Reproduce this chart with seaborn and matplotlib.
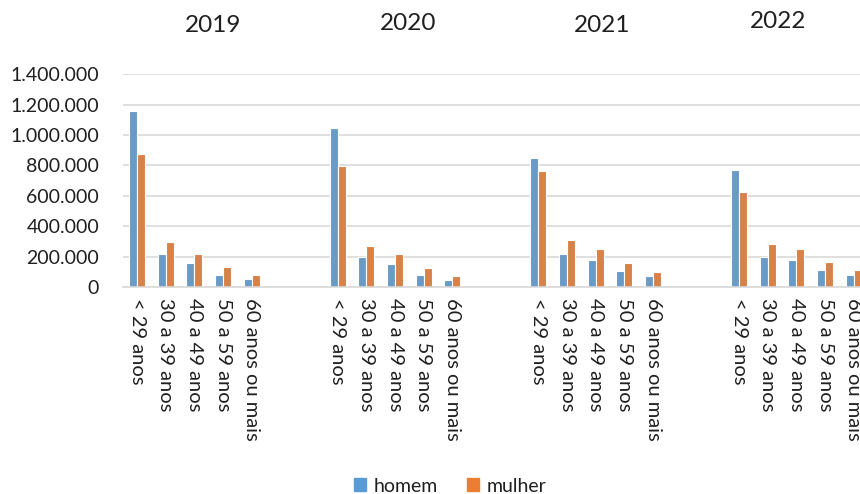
import numpy as np
import pandas as pd
import matplotlib
matplotlib.use("Agg")
import matplotlib.pyplot as plt
import matplotlib.ticker as mticker
from matplotlib.patches import Patch
import seaborn as sns

# data
anos = ["2019", "2020", "2021", "2022"]
faixas = ["< 29 anos", "30 a 39 anos", "40 a 49 anos", "50 a 59 anos", "60 anos ou mais"]
homem = [
    [1160000, 214000, 158000, 77000, 55000],
    [1048000, 198000, 150000, 77000, 46000],
    [848000, 214000, 176000, 103000, 70000],
    [769000, 198000, 176000, 110000, 79000],
]
mulher = [
    [873000, 293000, 220000, 134000, 77000],
    [796000, 270000, 214000, 128000, 71000],
    [763000, 308000, 247000, 161000, 97000],
    [626000, 280000, 247000, 167000, 110000],
]
n_vazios = 2  # empty slots after each year

cores = {"homem": "#5B9BD5", "mulher": "#ED7D31"}

rows = []
ordem = []
rotulos = []
for i, ano in enumerate(anos):
    for j, faixa in enumerate(faixas):
        slot = ano + "|" + faixa
        ordem.append(slot)
        rotulos.append(faixa)
        rows.append({"slot": slot, "sexo": "homem", "valor": homem[i][j]})
        rows.append({"slot": slot, "sexo": "mulher", "valor": mulher[i][j]})
    for k in range(n_vazios):
        ordem.append(ano + "|vazio" + str(k))
        rotulos.append("")
df = pd.DataFrame(rows)

sns.set_style("white")
plt.rcParams["font.family"] = ["Lato", "DejaVu Sans"]

fig = plt.figure(figsize=(8.6, 4.94), dpi=100)
ax = fig.add_axes([122.7 / 860, 207 / 494, 1 - 122.7 / 860, (287 - 74.3) / 494])

sns.barplot(data=df, x="slot", y="valor", hue="sexo", order=ordem,
            hue_order=["homem", "mulher"], palette=cores, width=0.56,
            edgecolor="white", linewidth=0.8, ax=ax, legend=False)

ax.set_xticks(range(len(ordem)))
ax.set_xticklabels(rotulos, rotation=-90, fontsize=14.5, color="#1f1f1f", va="top", ha="center")
# picture is cut on the right, inside the 2022 group
ax.set_xlim(-0.5, 25.22)
ax.set_ylim(0, 1400000)
ax.yaxis.set_major_locator(mticker.MultipleLocator(200000))
ax.yaxis.set_major_formatter(mticker.FuncFormatter(lambda v, p: f"{int(v):,}".replace(",", ".")))
ax.tick_params(axis="x", length=0, pad=8)
ax.tick_params(axis="y", length=0, pad=17, labelsize=14, labelcolor="#1f1f1f")
ax.set_xlabel("")
ax.set_ylabel("")

ax.grid(axis="y", color="#D9D9D9", linewidth=1.2)
ax.set_axisbelow(True)
for s in ["top", "right", "left"]:
    ax.spines[s].set_visible(False)
ax.spines["bottom"].set_color("#D9D9D9")
ax.spines["bottom"].set_linewidth(1.2)

# year titles above each group
pos_anos = [(213, 25), (408, 23), (602, 25), (778, 22)]
for ano, (px, py) in zip(anos, pos_anos):
    fig.text(px / 860, 1 - py / 494, ano, ha="center", va="center", fontsize=17.5, color="#1f1f1f")

handles = [Patch(color=cores["homem"], label="homem"), Patch(color=cores["mulher"], label="mulher")]
fig.legend(handles=handles, loc="center", bbox_to_anchor=(450 / 860, 1 - 486 / 494), ncol=2,
           frameon=False, fontsize=14, handlelength=0.6, handleheight=0.6, handletextpad=0.4,
           columnspacing=1.5, labelcolor="#1f1f1f")

fig.savefig("out.png", dpi=100)
